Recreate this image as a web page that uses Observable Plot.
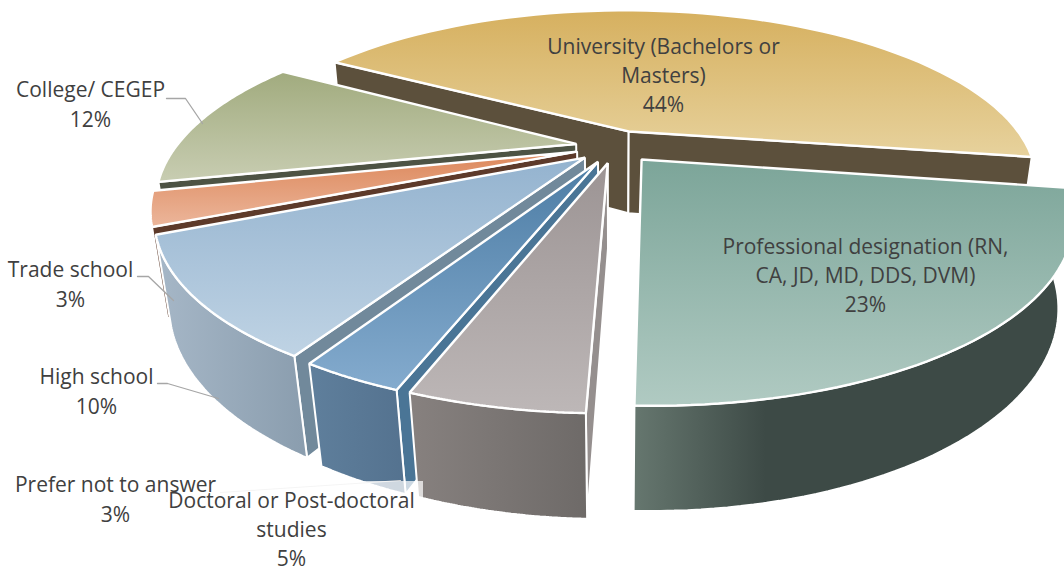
<!DOCTYPE html>
<html><head><meta charset="utf-8">
<script src="https://cdn.jsdelivr.net/npm/d3@7"></script>
<script src="https://cdn.jsdelivr.net/npm/@observablehq/plot@0.6"></script>
<style>html,body{margin:0;padding:0;background:#fff}svg{display:block}</style>
</head><body><div id="chart"></div>
<script>
const categories = ["University (Bachelors or Masters)","Professional designation (RN, CA, JD, MD, DDS, DVM)","Doctoral or Post-doctoral studies","Prefer not to answer","High school","Trade school","College/ CEGEP"];
const shares = [44,23,5,3,10,3,12];
const labelTexts = ["University (Bachelors or\nMasters)\n44%","Professional designation (RN,\nCA, JD, MD, DDS, DVM)\n23%","Doctoral or Post-doctoral\nstudies\n5%","Prefer not to answer\n3%","High school\n10%","Trade school\n3%","College/ CEGEP\n12%"];
const topFrom = ["#d6b05f","#7ca599","#9c9494","#4d7da5","#94b3cf","#dc875a","#a1ab7e"];
const topTo   = ["#e7d29d","#b0cac2","#bdb7b7","#84abce","#bfd3e4","#ecb69b","#c8cdb2"];
const wallFrom= ["#5c503c","#66776f","#87817f","#5f7f9c","#a6b7c7","#8a5a40","#6b7058"];
const wallTo  = ["#5c503c","#3d4a46","#6e6a68","#54728f","#8a9dae","#8a5a40","#6b7058"];
const sideColor=["#5c503c","#3d4a46","#958f8e","#4a7596","#71899b","#5d3a2a","#4d5344"];

// projection of the tilted disc
const view = {cx:615, cy:146, bx:400, ay:164.5, p:0.294, r:0.041, rx:0.03, c:86.8, explode:0.1, start:-59.4};
const project = (u,v,z) => { const w = 1 - view.p*v + view.r*z, wx = 1 - view.p*v + view.rx*z;
  return {x: view.cx + view.bx*u/wx, y: view.cy + (view.ay*v + view.c*z)/w}; };
const rad = d => d*Math.PI/180;
const total = d3.sum(shares);
let acc = view.start;
const slices = shares.map((s,i) => { const a0 = acc, a1 = acc + s/total*360; acc = a1;
  const mid = rad((a0+a1)/2);
  return {i, a0, a1, ox: view.explode*Math.sin(mid), oy: -view.explode*Math.cos(mid)}; });
const rim = (s,z) => d3.range(0,61).map(k => { const a = rad(s.a0 + (s.a1-s.a0)*k/60);
  return project(s.ox+Math.sin(a), s.oy-Math.cos(a), z); });
const apex = (s,z) => project(s.ox, s.oy, z);

const poly = (pts, fill, sw=2) => Plot.line(pts,{x:"x",y:"y",curve:"linear-closed",fill,stroke:"#fff",strokeWidth:sw,strokeLinejoin:"miter"});
// only the faces that turn towards the viewer are drawn
const sliceMarks = s => { const t = rim(s,0), b = rim(s,1), marks = [];
  if (s.i !== 1) marks.push(poly([apex(s,0),t[0],b[0],apex(s,1)], sideColor[s.i]));
  if (s.i === 0) marks.push(poly([apex(s,0),t[60],b[60],apex(s,1)], sideColor[s.i]));
  if (s.i >= 1 && s.i <= 4) marks.push(poly([...t,...b.slice().reverse()], `url(#wall${s.i})`));
  marks.push(poly([apex(s,0),...t], `url(#top${s.i})`, 2.4));
  return marks; };
const paintOrder = [0,6,5,4,3,2,1];

const defs = () => { const d = d3.create("svg:defs");
  slices.forEach(s => {
    const g = d.append("linearGradient").attr("id",`top${s.i}`).attr("x1",0).attr("x2",0).attr("y1",0).attr("y2",1);
    g.append("stop").attr("offset",0).attr("stop-color",topFrom[s.i]);
    g.append("stop").attr("offset",1).attr("stop-color",topTo[s.i]);
    const h = d.append("linearGradient").attr("id",`wall${s.i}`).attr("x1",0).attr("x2",1).attr("y1",0).attr("y2",0);
    h.append("stop").attr("offset",0).attr("stop-color",wallFrom[s.i]);
    h.append("stop").attr("offset",s.i===1?0.3:1).attr("stop-color",wallTo[s.i]);
  });
  return d.node(); };

const anchors = [[663,73],[865,273],[291,527],[115,497],[96,389],[70,282],[90,102]];
const labels = labelTexts.map((text,i) => ({text,x:anchors[i][0],y:anchors[i][1]}));
const leaders = [
  [{x:166,y:98},{x:185,y:98},{x:202,y:123}],
  [{x:137,y:276},{x:148,y:276},{x:173,y:300}],
  [{x:157,y:383},{x:167,y:383},{x:218,y:398}]
];

const chart = Plot.plot({
  width:1064, height:571, margin:0,
  style:{background:"#fff"},
  x:{domain:[0,1064],range:[0,1064],axis:null},
  y:{domain:[0,571],range:[0,571],axis:null},
  marks:[
    defs,
    ...paintOrder.flatMap(i => sliceMarks(slices[i])),
    ...leaders.map(l => Plot.line(l,{x:"x",y:"y",stroke:"#a6a6a6",strokeWidth:1.3})),
    Plot.line([{x:220,y:492},{x:400,y:480}],{x:"x",y:"y",stroke:"#d9d9d9",strokeWidth:1.2}),
    Plot.rect([{x1:168,x2:423,y1:481,y2:571}],{x1:"x1",x2:"x2",y1:"y1",y2:"y2",fill:"#fff",fillOpacity:0.72}),
    Plot.text(labels,{x:"x",y:"y",text:"text",fontSize:21,fontFamily:"Open Sans",fill:"#404040",lineHeight:1.4})
  ]
});
document.getElementById("chart").append(chart);
</script></body></html>
